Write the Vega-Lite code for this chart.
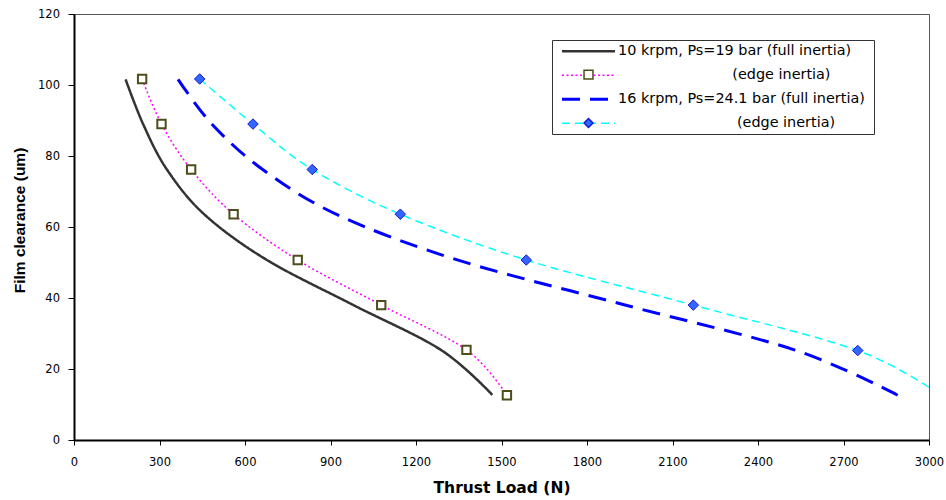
{
  "$schema": "https://vega.github.io/schema/vega-lite/v6.json",
  "width": 855,
  "height": 426,
  "autosize": {"type": "none"},
  "padding": {"left": 74, "top": 14, "right": 17, "bottom": 60},
  "background": "#ffffff",
  "config": {
    "view": {"stroke": "#555555", "strokeWidth": 1},
    "axis": {
      "grid": false,
      "labelFont": "DejaVu Sans",
      "labelFontSize": 11.5,
      "labelColor": "#000000",
      "tickColor": "#000000",
      "domainColor": "#000000",
      "domainWidth": 2,
      "tickWidth": 1,
      "labelFlush": false,
      "labelOverlap": false,
      "titleColor": "#000000",
      "titleFontWeight": "bold",
      "format": "d"
    }
  },
  "data": {
    "values": [
      {"s": "10 krpm, Ps=19 bar (full inertia)", "x": 181, "y": 101.6},
      {"s": "10 krpm, Ps=19 bar (full inertia)", "x": 243, "y": 88.9},
      {"s": "10 krpm, Ps=19 bar (full inertia)", "x": 326, "y": 76.2},
      {"s": "10 krpm, Ps=19 bar (full inertia)", "x": 458, "y": 63.5},
      {"s": "10 krpm, Ps=19 bar (full inertia)", "x": 675, "y": 50.8},
      {"s": "10 krpm, Ps=19 bar (full inertia)", "x": 978, "y": 38.1},
      {"s": "10 krpm, Ps=19 bar (full inertia)", "x": 1287, "y": 25.4},
      {"s": "10 krpm, Ps=19 bar (full inertia)", "x": 1468, "y": 12.7},
      {"s": "10 krpm, Ps=19 bar (edge inertia)", "x": 239, "y": 101.7},
      {"s": "10 krpm, Ps=19 bar (edge inertia)", "x": 307, "y": 89},
      {"s": "10 krpm, Ps=19 bar (edge inertia)", "x": 411, "y": 76.2},
      {"s": "10 krpm, Ps=19 bar (edge inertia)", "x": 560, "y": 63.6},
      {"s": "10 krpm, Ps=19 bar (edge inertia)", "x": 785, "y": 50.7},
      {"s": "10 krpm, Ps=19 bar (edge inertia)", "x": 1078, "y": 38},
      {"s": "10 krpm, Ps=19 bar (edge inertia)", "x": 1377, "y": 25.4},
      {"s": "10 krpm, Ps=19 bar (edge inertia)", "x": 1519, "y": 12.6},
      {"s": "16 krpm, Ps=24.1 bar (full inertia)", "x": 365, "y": 101.6},
      {"s": "16 krpm, Ps=24.1 bar (full inertia)", "x": 485, "y": 88.9},
      {"s": "16 krpm, Ps=24.1 bar (full inertia)", "x": 662, "y": 76.2},
      {"s": "16 krpm, Ps=24.1 bar (full inertia)", "x": 923, "y": 63.5},
      {"s": "16 krpm, Ps=24.1 bar (full inertia)", "x": 1342, "y": 50.8},
      {"s": "16 krpm, Ps=24.1 bar (full inertia)", "x": 1930, "y": 38.1},
      {"s": "16 krpm, Ps=24.1 bar (full inertia)", "x": 2527, "y": 25.4},
      {"s": "16 krpm, Ps=24.1 bar (full inertia)", "x": 2890, "y": 12.6},
      {"s": "16 krpm, Ps=24.1 bar (edge inertia)", "x": 441, "y": 101.7},
      {"s": "16 krpm, Ps=24.1 bar (edge inertia)", "x": 628, "y": 89},
      {"s": "16 krpm, Ps=24.1 bar (edge inertia)", "x": 836, "y": 76.2},
      {"s": "16 krpm, Ps=24.1 bar (edge inertia)", "x": 1145, "y": 63.6},
      {"s": "16 krpm, Ps=24.1 bar (edge inertia)", "x": 1587, "y": 50.7},
      {"s": "16 krpm, Ps=24.1 bar (edge inertia)", "x": 2173, "y": 38},
      {"s": "16 krpm, Ps=24.1 bar (edge inertia)", "x": 2750, "y": 25.2},
      {"s": "16 krpm, Ps=24.1 bar (edge inertia)", "x": 3040, "y": 12.7}
    ]
  },
  "encoding": {
    "x": {
      "field": "x", "type": "quantitative",
      "scale": {"domain": [0, 3000], "nice": false, "zero": false},
      "axis": {
        "title": "Thrust Load (N)",
        "values": [0, 300, 600, 900, 1200, 1500, 1800, 2100, 2400, 2700, 3000],
        "tickSize": 5,
        "labelPadding": 11,
        "titleFont": "DejaVu Sans",
        "titleFontSize": 15.5,
        "titleY": 47,
        "titleBaseline": "middle"
      }
    },
    "y": {
      "field": "y", "type": "quantitative",
      "scale": {"domain": [0, 120], "nice": false, "zero": false},
      "axis": {
        "title": "Film clearance (um)",
        "values": [0, 20, 40, 60, 80, 100, 120],
        "tickSize": 6,
        "labelPadding": 8.5,
        "titleFont": "Liberation Sans",
        "titleFontSize": 15.5,
        "titleAngle": 270,
        "titleX": -55,
        "titleY": 206,
        "titleBaseline": "middle"
      }
    }
  },
  "layer": [
    {
      "transform": [{"filter": "datum.s == '10 krpm, Ps=19 bar (full inertia)'"}],
      "mark": {"type": "line", "interpolate": "cardinal", "tension": 0, "strokeWidth": 2.5, "clip": true},
      "encoding": {
        "color": {
          "field": "s", "type": "nominal",
          "scale": {
            "domain": ["10 krpm, Ps=19 bar (full inertia)", "10 krpm, Ps=19 bar (edge inertia)", "16 krpm, Ps=24.1 bar (full inertia)", "16 krpm, Ps=24.1 bar (edge inertia)"],
            "range": ["#333333", "#ff00ff", "#0000ff", "#00ffff"]
          },
          "legend": {
            "orient": "none",
            "legendX": 478,
            "legendY": 26,
            "title": null,
            "padding": 4,
            "rowPadding": 9,
            "strokeColor": "#333333",
            "fillColor": "#ffffff",
            "symbolType": "M-5.3,0H5.3",
            "symbolSize": 100,
            "symbolOffset": 25.3,
            "labelOffset": 22.3,
            "labelFont": "DejaVu Sans",
            "labelFontSize": 14.4,
            "labelColor": "#000000",
            "labelLimit": 400,
            "zindex": 1,
            "labelExpr": "datum.label == '10 krpm, Ps=19 bar (edge inertia)' ? '\u200b\u00a0\u00a0\u00a0\u00a0\u00a0\u00a0\u00a0\u00a0\u00a0\u00a0\u00a0\u00a0\u00a0\u00a0\u00a0\u00a0\u00a0\u00a0\u00a0\u00a0\u00a0\u00a0\u00a0\u00a0\u00a0(edge inertia)' : datum.label == '16 krpm, Ps=24.1 bar (edge inertia)' ? '\u200b\u00a0\u00a0\u00a0\u00a0\u00a0\u00a0\u00a0\u00a0\u00a0\u00a0\u00a0\u00a0\u00a0\u00a0\u00a0\u00a0\u00a0\u00a0\u00a0\u00a0\u00a0\u00a0\u00a0\u00a0\u00a0\u00a0(edge inertia)' : datum.label == '16 krpm, Ps=24.1 bar (full inertia)' ? datum.label + '\u00a0\u200b' : datum.label",
            "encode": {
              "symbols": {
                "update": {
                  "strokeWidth": {"signal": "datum.value == '16 krpm, Ps=24.1 bar (full inertia)' ? 3 : datum.value == '10 krpm, Ps=19 bar (full inertia)' ? 2.5 : 1.5"}
                }
              }
            }
          }
        },
        "strokeDash": {
          "field": "s", "type": "nominal",
          "scale": {
            "domain": ["10 krpm, Ps=19 bar (full inertia)", "10 krpm, Ps=19 bar (edge inertia)", "16 krpm, Ps=24.1 bar (full inertia)", "16 krpm, Ps=24.1 bar (edge inertia)"],
            "range": [[1, 0], [2, 2.5], [18, 10], [8, 5]]
          }
        }
      }
    },
    {
      "transform": [{"filter": "datum.s == '10 krpm, Ps=19 bar (edge inertia)'"}],
      "mark": {"type": "line", "interpolate": "cardinal", "tension": 0, "strokeWidth": 1.5, "clip": true},
      "encoding": {
        "color": {"field": "s", "type": "nominal"},
        "strokeDash": {"field": "s", "type": "nominal"}
      }
    },
    {
      "transform": [{"filter": "datum.s == '16 krpm, Ps=24.1 bar (full inertia)'"}],
      "mark": {"type": "line", "interpolate": "cardinal", "tension": 0, "strokeWidth": 3, "clip": true},
      "encoding": {
        "color": {"field": "s", "type": "nominal"},
        "strokeDash": {"field": "s", "type": "nominal"}
      }
    },
    {
      "transform": [{"filter": "datum.s == '16 krpm, Ps=24.1 bar (edge inertia)'"}],
      "mark": {"type": "line", "interpolate": "cardinal", "tension": 0, "strokeWidth": 1.5, "clip": true},
      "encoding": {
        "color": {"field": "s", "type": "nominal"},
        "strokeDash": {"field": "s", "type": "nominal"}
      }
    },
    {
      "transform": [{"filter": "datum.s == '10 krpm, Ps=19 bar (edge inertia)'"}],
      "mark": {"type": "point", "filled": true, "size": 70, "strokeWidth": 2, "opacity": 1, "clip": true},
      "encoding": {
        "shape": {
          "field": "s", "type": "nominal",
          "scale": {"domain": ["10 krpm, Ps=19 bar (edge inertia)", "16 krpm, Ps=24.1 bar (edge inertia)"], "range": ["square", "diamond"]},
          "legend": {
            "orient": "none",
            "legendX": 507.3,
            "legendY": 53.4,
            "title": null,
            "padding": 0,
            "rowPadding": 32.4,
            "symbolSize": 80,
            "symbolOffset": 0,
            "symbolOpacity": 1,
            "labelFontSize": 14.4,
            "labelExpr": "''",
            "zindex": 2,
            "encode": {
              "symbols": {
                "update": {
                  "size": {"signal": "datum.value == '10 krpm, Ps=19 bar (edge inertia)' ? 70 : 110"},
                  "strokeWidth": {"signal": "datum.value == '10 krpm, Ps=19 bar (edge inertia)' ? 2 : 1"}
                }
              }
            }
          }
        },
        "fill": {
          "field": "s", "type": "nominal",
          "scale": {"domain": ["10 krpm, Ps=19 bar (edge inertia)", "16 krpm, Ps=24.1 bar (edge inertia)"], "range": ["#ffffff", "#3366ff"]}
        },
        "stroke": {
          "field": "s", "type": "nominal",
          "scale": {"domain": ["10 krpm, Ps=19 bar (edge inertia)", "16 krpm, Ps=24.1 bar (edge inertia)"], "range": ["#4d4d1a", "#1a1acc"]}
        }
      }
    },
    {
      "transform": [{"filter": "datum.s == '16 krpm, Ps=24.1 bar (edge inertia)'"}],
      "mark": {"type": "point", "filled": true, "size": 110, "strokeWidth": 1, "opacity": 1, "clip": true},
      "encoding": {
        "shape": {"field": "s", "type": "nominal"},
        "fill": {"field": "s", "type": "nominal"},
        "stroke": {"field": "s", "type": "nominal"}
      }
    }
  ]
}
